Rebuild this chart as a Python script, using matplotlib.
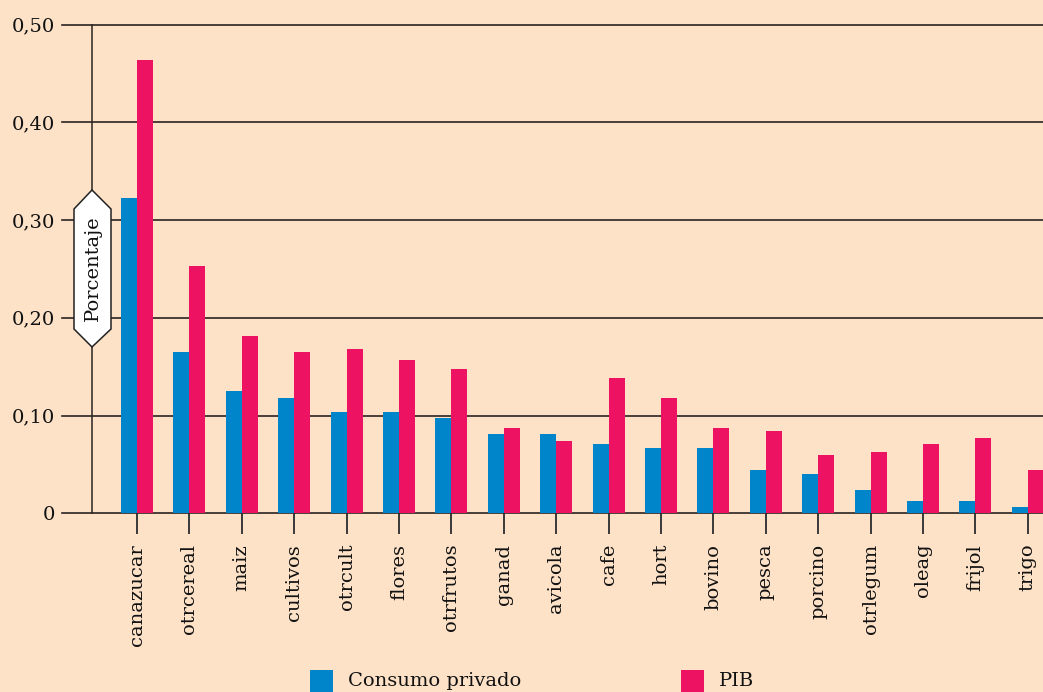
import matplotlib
matplotlib.use("Agg")
import matplotlib.pyplot as plt
from matplotlib.patches import Polygon, Rectangle
import numpy as np

categories = ["canazucar", "otrcereal", "maiz", "cultivos", "otrcult", "flores",
              "otrfrutos", "ganad", "avicola", "cafe", "hort", "bovino", "pesca",
              "porcino", "otrlegum", "oleag", "frijol", "trigo"]
consumo = [0.323, 0.165, 0.125, 0.118, 0.104, 0.104, 0.097, 0.081, 0.081, 0.071,
           0.067, 0.067, 0.044, 0.040, 0.024, 0.013, 0.013, 0.006]
pib = [0.464, 0.253, 0.181, 0.165, 0.168, 0.157, 0.148, 0.087, 0.074, 0.138,
       0.118, 0.087, 0.084, 0.060, 0.063, 0.071, 0.077, 0.044]
yticks = [0, 0.1, 0.2, 0.3, 0.4, 0.5]
ytick_labels = ["0", "0,10", "0,20", "0,30", "0,40", "0,50"]
legend_labels = ["Consumo privado", "PIB"]

BG = "#FDE2C8"
BLUE = "#0084CA"
PINK = "#EE1262"
LINE = "#2a2420"

plt.rcParams["font.family"] = ["DejaVu Serif"]

W, H = 1043, 692
fig = plt.figure(figsize=(W / 100, H / 100), dpi=100, facecolor=BG)

# axes: x from 62 px to 1043 px, y=0 at 513.3 px, y=0.5 at 24.5 px
ax_left = 62 / W
ax_bottom = (H - 513.3) / H
ax_top = (H - 24.5) / H
ax = fig.add_axes([ax_left, ax_bottom, 1 - ax_left, ax_top - ax_bottom])
ax.set_facecolor(BG)

x = np.arange(len(categories))
bw = 0.305
ax.bar(x - bw / 2, consumo, width=bw, color=BLUE, zorder=3, linewidth=0)
ax.bar(x + bw / 2, pib, width=bw, color=PINK, zorder=3, linewidth=0)

ax.set_xlim(-1.43, 17.29)
ax.set_ylim(0, 0.5)

for t in yticks:
    ax.axhline(t, color=LINE, lw=1.2, zorder=2, clip_on=False)
ax.axvline(-0.859, ymin=0, ymax=1, color=LINE, lw=1.1, zorder=2, clip_on=False)

for s in ax.spines.values():
    s.set_visible(False)

ax.set_yticks(yticks)
ax.set_yticklabels(ytick_labels)
ax.tick_params(axis="y", length=0, pad=5, labelsize=14, labelcolor="#111111")
ax.set_xticks(x)
ax.set_xticklabels(categories, rotation=90, va="top", ha="center")
ax.tick_params(axis="x", length=15, width=1.4, color="#3a3a3a", pad=7,
               labelsize=14, labelcolor="#111111")

# "Porcentaje" hexagon label
def fx(px):
    return px / W

def fy(py):
    return (H - py) / H

hexpts = [(92, 190), (111, 209), (111, 329), (92, 347), (74, 329), (74, 209)]
poly = Polygon([(fx(a), fy(b)) for a, b in hexpts], closed=True,
               facecolor="white", edgecolor="#222222", lw=1.1,
               transform=fig.transFigure, zorder=5)
fig.patches.append(poly)
fig.text(fx(93), fy(268.5), "Porcentaje", rotation=90, ha="center", va="center",
         fontsize=14, color="#111111", zorder=6)

# legend
fig.patches.append(Rectangle((fx(310), fy(692)), 23 / W, 22 / H, transform=fig.transFigure,
                             facecolor=BLUE, edgecolor="none"))
fig.text(fx(348), fy(681), legend_labels[0], ha="left", va="center", fontsize=14,
         color="#111111")
fig.patches.append(Rectangle((fx(681), fy(692)), 23 / W, 22 / H, transform=fig.transFigure,
                             facecolor=PINK, edgecolor="none"))
fig.text(fx(719), fy(681), legend_labels[1], ha="left", va="center", fontsize=14,
         color="#111111")

fig.savefig("out.png", dpi=100, facecolor=BG)
